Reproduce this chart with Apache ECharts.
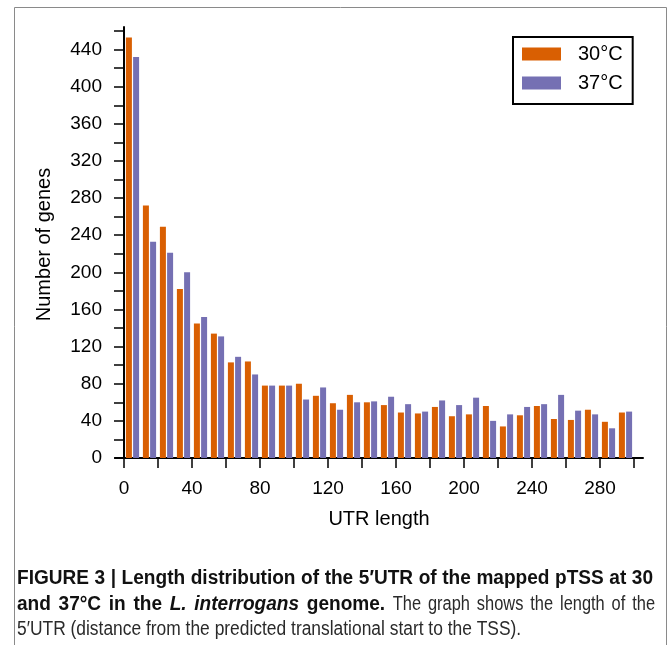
<!DOCTYPE html>
<html><head><meta charset="utf-8">
<script src="https://cdn.jsdelivr.net/npm/echarts@6/dist/echarts.min.js"></script>
<style>html,body{margin:0;padding:0;background:#fff}#c{width:669px;height:645px}</style>
</head><body><div id="c"></div>
<script>
const categories = ['0-10','10-20','20-30','30-40','40-50','50-60','60-70','70-80','80-90','90-100',
  '100-110','110-120','120-130','130-140','140-150','150-160','160-170','170-180','180-190','190-200',
  '200-210','210-220','220-230','230-240','240-250','250-260','260-270','270-280','280-290','290-300'];
const series30 = [453, 272, 249, 182, 145, 134, 103, 104, 78, 78, 80, 67, 59, 68, 60, 57, 49, 48, 55, 45, 47, 56, 34, 46, 56, 42, 41, 52, 39, 49];
const series37 = [432, 233, 221, 200, 152, 131, 109, 90, 78, 78, 63, 76, 52, 60, 61, 66, 58, 50, 62, 57, 65, 40, 47, 55, 58, 68, 51, 47, 32, 50];
const xTickLabels = [0, 40, 80, 120, 160, 200, 240, 280];
const yTickLabels = [0, 40, 80, 120, 160, 200, 240, 280, 320, 360, 400, 440];
const seriesNames = ['30°C', '37°C'];
const colors = ['#D95F02', '#7570B3'];

const font = '"Liberation Sans", Arial, Helvetica, sans-serif';
const F_B = 'bold 20px "Liberation Sans", Arial, sans-serif';
const F_BI = 'italic bold 20px "Liberation Sans", Arial, sans-serif';
const F_R = '20px "Liberation Sans", Arial, sans-serif';

// caption: words with style [text, font, scaleX, colour]
const B = (t) => [t, F_B, 0.953, '#111'];
const BI = (t) => [t, F_BI, 0.953, '#111'];
const R2 = (t) => [t, F_R, 0.82, '#2a2a2a'];
const R3 = (t) => [t, F_R, 0.87, '#2a2a2a'];
const capLine1 = 'FIGURE 3 | Length distribution of the 5\u2032UTR of the mapped pTSS at 30'.split(' ').map(B);
const capLine2 = ['and', '37°C', 'in', 'the'].map(B)
  .concat(['L.', 'interrogans'].map(BI))
  .concat(['genome.'].map(B))
  .concat(['The', 'graph', 'shows', 'the', 'length', 'of', 'the'].map(R2));
const capLine3 = '5\u2032UTR (distance from the predicted translational start to the TSS).'.split(' ').map(R3);

const mctx = document.createElement('canvas').getContext('2d');
function tw(txt, f) { mctx.font = f; return mctx.measureText(txt).width; }

function layoutLine(words, y, x0, justifyRight) {
  const widths = words.map(w => tw(w[0], w[1]) * w[2]);
  const spaces = words.map(w => tw(' ', w[1]) * w[2]);
  let natural = widths.reduce((a, b) => a + b, 0);
  for (let i = 0; i < words.length - 1; i++) natural += spaces[i];
  const extra = justifyRight ? Math.max(0, (justifyRight - x0 - natural) / (words.length - 1)) : 0;
  const els = [];
  let x = x0;
  words.forEach((w, i) => {
    els.push({type: 'text', silent: true, x: x, y: y, scaleX: w[2],
      style: {text: w[0], font: w[1], fill: w[3], verticalAlign: 'middle'}});
    x += widths[i] + spaces[i] + extra;
  });
  return els;
}

const chart = echarts.init(document.getElementById('c'), null, {renderer: 'canvas'});

const option = {
  animation: false,
  textStyle: {fontFamily: font},
  grid: [
    {left: 124, right: 35, top: 31, bottom: 187},
    {left: 115, right: 26, top: 27, bottom: 187},
    {left: 124, right: 35, top: 27, bottom: 187}
  ],
  xAxis: [
    {type: 'category', gridIndex: 0, data: categories, show: false},
    {type: 'value', gridIndex: 0, min: 0, max: 300, interval: 20, position: 'bottom',
      axisLine: {show: false},
      axisTick: {show: true, length: 10, lineStyle: {color: '#000', width: 1.5}},
      splitLine: {show: false},
      axisLabel: {margin: 21, fontSize: 19, color: '#000', fontFamily: font,
        formatter: v => xTickLabels.includes(v) ? String(v) : ''},
      name: 'UTR length', nameLocation: 'middle', nameGap: 51,
      nameTextStyle: {fontSize: 20, color: '#000', fontFamily: font}},
    {type: 'value', gridIndex: 1, min: 0, max: 1,
      axisLine: {show: true, lineStyle: {color: '#000', width: 2}},
      axisTick: {show: false}, axisLabel: {show: false}, splitLine: {show: false}},
    {type: 'value', gridIndex: 2, min: 0, max: 1, show: false}
  ],
  yAxis: [
    {type: 'value', gridIndex: 0, min: 0, max: 460, interval: 20,
      axisLine: {show: false},
      axisTick: {show: true, length: 10, lineStyle: {color: '#000', width: 1.5}},
      splitLine: {show: false},
      axisLabel: {margin: 22, fontSize: 19, color: '#000', fontFamily: font,
        formatter: v => yTickLabels.includes(v) ? String(v) : ''},
      name: 'Number of genes', nameLocation: 'middle', nameGap: 70,
      nameTextStyle: {fontSize: 20, color: '#000', fontFamily: font}},
    {type: 'value', gridIndex: 1, min: 0, max: 1, show: false},
    {type: 'value', gridIndex: 2, min: 0, max: 1,
      axisLine: {show: true, lineStyle: {color: '#000', width: 2}},
      axisTick: {show: false}, axisLabel: {show: false}, splitLine: {show: false}}
  ],
  legend: {
    orient: 'vertical', left: 513, top: 37, padding: [7, 10, 11, 9],
    itemWidth: 39, itemHeight: 13, itemGap: 9, icon: 'rect',
    borderColor: '#000', borderWidth: 2,
    textStyle: {fontSize: 20, color: '#000', fontFamily: font, padding: [0, 0, 0, 12]},
    data: seriesNames
  },
  series: [
    {name: seriesNames[0], type: 'bar', xAxisIndex: 0, yAxisIndex: 0, data: series30,
      barWidth: 6, barGap: '20%', itemStyle: {color: colors[0]}},
    {name: seriesNames[1], type: 'bar', xAxisIndex: 0, yAxisIndex: 0, data: series37,
      barWidth: 6, barGap: '20%', itemStyle: {color: colors[1]}}
  ],
  graphic: [
    {type: 'rect', silent: true, shape: {x: 14.5, y: 7.5, width: 652, height: 700},
      style: {fill: 'none', stroke: '#8a8a8a', lineWidth: 1}}
  ].concat(layoutLine(capLine1, 578, 17, 653))
   .concat(layoutLine(capLine2, 604, 17, 655))
   .concat(layoutLine(capLine3, 629, 17, null))
};
chart.setOption(option);
</script>
</body></html>
